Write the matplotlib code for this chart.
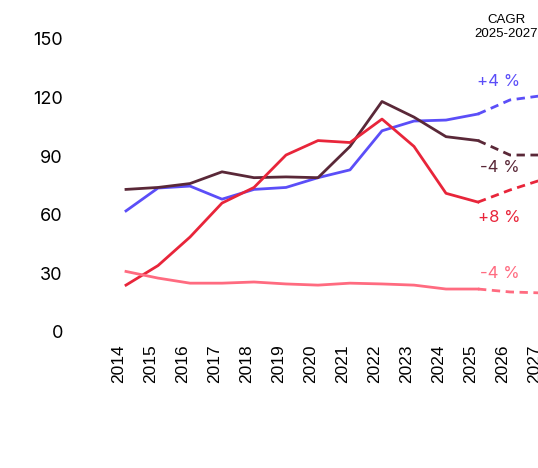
import matplotlib
matplotlib.use("Agg")
import matplotlib.pyplot as plt
from matplotlib.transforms import ScaledTranslation

plt.rcParams['font.family'] = ['Inter', 'DejaVu Sans']

years = list(range(2014, 2028))
blue = [62, 73.7, 74.7, 68, 73, 74, 79, 83, 103, 108, 108.5, 111.6, 118.8, 121]
maroon = [73, 74, 76, 82, 79, 79.4, 79, 95, 118, 110, 100, 98, 90.6, 90.6]
red = [24, 34, 48.6, 66, 74, 90.6, 98, 97, 109, 95, 71, 66.5, 72.7, 78]
pink = [31, 27.6, 25, 25, 25.6, 24.6, 24, 25, 24.6, 24, 22, 22, 20.5, 20]

series = [
    (blue, '#5b4ef8', '+4 %', 499, 82),
    (maroon, '#5a2838', '-4 %', 500, 168),
    (red, '#e8253a', '+8 %', 499, 218),
    (pink, '#ff6b80', '-4 %', 500, 274),
]
cagr_title = "CAGR\n2025-2027"
yticks = [0, 30, 60, 90, 120, 150]

W, H = 538, 468
fig = plt.figure(figsize=(W / 100, H / 100), dpi=100)
ax = fig.add_axes([110 / W, (H - 332) / H, 448 / W, (332 - 39) / H])
ax.set_xlim(2013.5, 2027.5)
ax.set_ylim(0, 150)

split = years.index(2025)
for vals, col, lab, lx, ly in series:
    ax.plot(years[:split + 1], vals[:split + 1], color=col, lw=2, clip_on=False,
            solid_joinstyle='round')
    ax.plot(years[split:], vals[split:], color=col, lw=2, ls=(0, (3, 2)),
            clip_on=False)
    fig.text(lx / W, 1 - ly / H, lab, color=col, fontsize=12, ha='center', va='center')

fig.text(506 / W, 1 - 27 / H, cagr_title, fontsize=9.5, ha='center', va='center',
         linespacing=1.15, family=['Liberation Sans', 'DejaVu Sans'])

for s in ax.spines.values():
    s.set_visible(False)
ax.set_yticks(yticks)
ax.set_yticklabels([str(v) for v in yticks], fontsize=13)
ax.set_xticks(years)
ax.set_xticklabels([str(y) for y in years], rotation=90, fontsize=12.5,
                   family=['Liberation Sans', 'DejaVu Sans'])
ax.tick_params(axis='y', length=0, pad=34)
ax.tick_params(axis='x', length=0, pad=9)
offset = ScaledTranslation(-7 / 100, 0, fig.dpi_scale_trans)
for t in ax.get_xticklabels():
    t.set_transform(t.get_transform() + offset)

fig.savefig('out.png', dpi=100)
